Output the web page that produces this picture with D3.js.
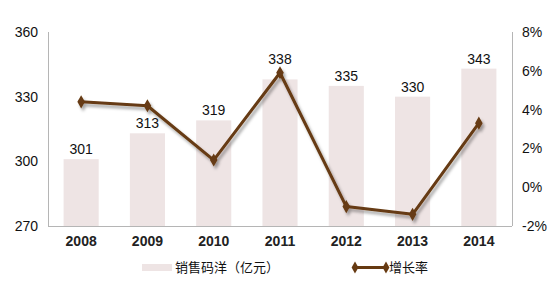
<!DOCTYPE html>
<html><head><meta charset="utf-8">
<script src="https://cdn.jsdelivr.net/npm/d3@7"></script>
<style>body{margin:0;background:#fff;}svg{display:block;font-family:"Liberation Sans",Arial,sans-serif;}</style>
</head><body>
<svg id="c" width="552" height="291"></svg>
<script>
const years = ["2008","2009","2010","2011","2012","2013","2014"];
const sales = [301,313,319,338,335,330,343];
const growth = [4.4,4.2,1.4,5.9,-1.0,-1.4,3.3];
const leftTicks = [270,300,330,360];
const rightTicks = [-2,0,2,4,6,8];
const barName = "销售码洋（亿元）";
const lineName = "增长率";

const svg = d3.select("#c");
const L = 48, R = 512, T = 32, B = 226;
const x = d3.scaleBand().domain(years).range([L,R]).paddingInner(0.47).paddingOuter(0.235);
const yL = d3.scaleLinear().domain([270,360]).range([B,T]);
const yR = d3.scaleLinear().domain([-2,8]).range([B,T]);
const barColor = "#eee4e4", lineColor = "#663a12";

const defs = svg.append("defs");
const f = defs.append("filter").attr("id","sh").attr("x","-20%").attr("y","-20%").attr("width","140%").attr("height","140%");
f.append("feDropShadow").attr("dx",2).attr("dy",3).attr("stdDeviation",1.6).attr("flood-color","#000").attr("flood-opacity",0.35);

svg.append("g").selectAll("rect").data(years).join("rect")
  .attr("x",d=>x(d)).attr("width",x.bandwidth())
  .attr("y",(d,i)=>yL(sales[i])).attr("height",(d,i)=>B-yL(sales[i]))
  .attr("fill",barColor);

// labels: above the bar, or above the marker if the marker would overlap
const labelY = (i)=>{
  const by = yL(sales[i]) - 5;
  const my = yR(growth[i]);
  if (my > by - 18 && my < by + 12) return my - 9;
  return by;
};
svg.append("g").selectAll("text").data(years).join("text")
  .attr("x",d=>x(d)+x.bandwidth()/2).attr("y",(d,i)=>labelY(i))
  .attr("text-anchor","middle").attr("font-size",14).attr("fill","#111")
  .text((d,i)=>sales[i]);

// axes
const ax = svg.append("g").attr("stroke","#b5b5b5").attr("stroke-width",1);
ax.append("line").attr("x1",L+0.5).attr("x2",L+0.5).attr("y1",T).attr("y2",B);
ax.append("line").attr("x1",R+0.5).attr("x2",R+0.5).attr("y1",T).attr("y2",B);
ax.append("line").attr("x1",L).attr("x2",R).attr("y1",B+0.5).attr("y2",B+0.5);

const gl = svg.append("g").attr("transform",`translate(${L},0)`)
  .call(d3.axisLeft(yL).tickValues(leftTicks).tickSize(0).tickPadding(10));
const gr = svg.append("g").attr("transform",`translate(${R},0)`)
  .call(d3.axisRight(yR).tickValues(rightTicks).tickSize(0).tickPadding(10).tickFormat(d=>d+"%"));
const gx = svg.append("g").attr("transform",`translate(0,${B})`)
  .call(d3.axisBottom(x).tickSize(0).tickPadding(10));
[gl,gr,gx].forEach(g=>{g.select(".domain").remove();g.selectAll("text").attr("font-size",14).attr("fill","#111").attr("font-family","Liberation Sans, Arial, sans-serif");});
gx.selectAll("text").attr("font-weight","bold").attr("fill","#222");

// line
const pts = years.map((d,i)=>[x(d)+x.bandwidth()/2, yR(growth[i])]);
const lg = svg.append("g").attr("filter","url(#sh)");
lg.append("path").attr("d",d3.line()(pts)).attr("fill","none").attr("stroke",lineColor).attr("stroke-width",3).attr("stroke-linejoin","round");
lg.selectAll("path.m").data(pts).join("path").attr("class","m")
  .attr("transform",d=>`translate(${d[0]},${d[1]})`)
  .attr("d",d3.symbol(d3.symbolDiamond,50)()).attr("fill",lineColor);

// legend
const leg = svg.append("g");
leg.append("rect").attr("x",142).attr("y",264).attr("width",30).attr("height",7).attr("fill",barColor);
leg.append("text").attr("x",175).attr("y",272).attr("font-size",13).attr("fill","#111").attr("font-family","Noto Sans CJK SC, sans-serif").text(barName);
leg.append("line").attr("x1",355).attr("x2",386).attr("y1",267.5).attr("y2",267.5).attr("stroke",lineColor).attr("stroke-width",3);
leg.selectAll("path.lm").data([355,386]).join("path").attr("class","lm")
  .attr("transform",d=>`translate(${d},267.5)`).attr("d",d3.symbol(d3.symbolDiamond,40)()).attr("fill",lineColor);
leg.append("text").attr("x",389).attr("y",272).attr("font-size",13).attr("fill","#111").attr("font-family","Noto Sans CJK SC, sans-serif").text(lineName);
</script>
</body></html>
